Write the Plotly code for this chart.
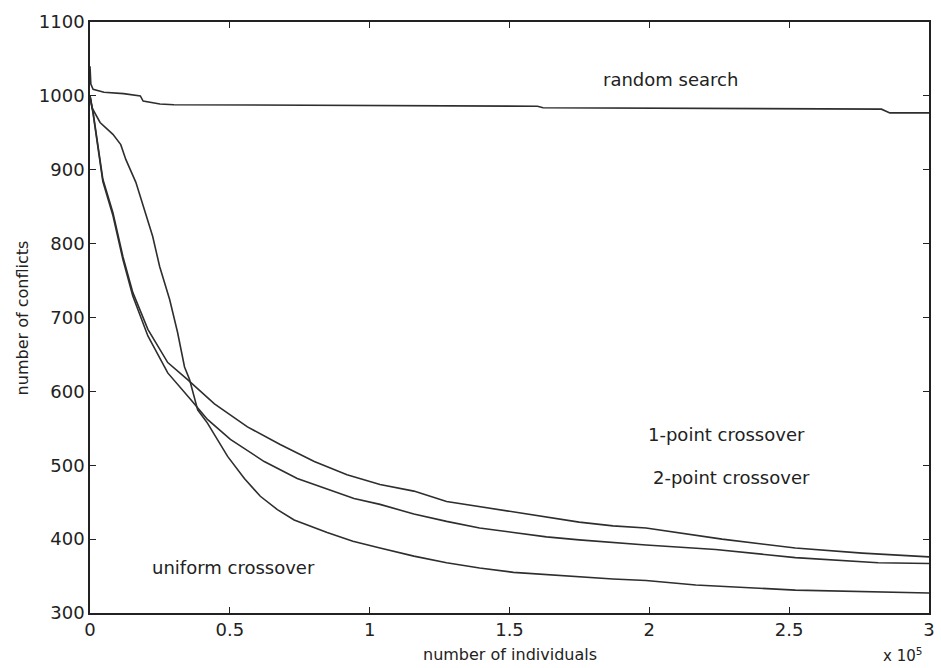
import plotly.graph_objects as go

# x values are in units of 10^5 individuals
random_x = [0, 0.003, 0.011, 0.05, 0.12, 0.18, 0.19, 0.25, 0.3, 0.8, 1.6, 1.62, 2.2, 2.83, 2.86, 3.0]
random_y = [1040, 1016, 1009, 1005, 1003, 1000, 993, 989, 988, 987, 986, 984, 983, 982, 977, 977]

one_point_x = [0, 0.011, 0.046, 0.082, 0.118, 0.153, 0.207, 0.278, 0.349, 0.445, 0.563, 0.680,
               0.802, 0.919, 1.037, 1.158, 1.275, 1.393, 1.514, 1.632, 1.749, 1.870, 1.988,
               2.26, 2.522, 2.761, 3.0]
one_point_y = [1000, 978, 887, 842, 782, 734, 684, 639, 616, 583, 552, 528,
               505, 487, 474, 465, 451, 444, 437, 430, 423, 418, 415,
               400, 388, 381, 376]

two_point_x = [0, 0.011, 0.046, 0.082, 0.118, 0.153, 0.207, 0.278, 0.360, 0.420, 0.502, 0.623,
               0.741, 0.859, 0.944, 1.037, 1.158, 1.275, 1.393, 1.514, 1.632, 1.749, 1.870,
               1.988, 2.237, 2.522, 2.818, 3.0]
two_point_y = [1000, 976, 884, 838, 778, 729, 675, 625, 589, 562, 535, 505,
               482, 466, 455, 447, 434, 424, 415, 409, 403, 399, 395,
               392, 386, 375, 368, 367]

uniform_x = [0, 0.007, 0.036, 0.082, 0.11, 0.128, 0.164, 0.199, 0.224, 0.249, 0.285, 0.313,
             0.338, 0.356, 0.385, 0.42, 0.492, 0.552, 0.609, 0.67, 0.73, 0.848, 0.94, 1.037,
             1.158, 1.275, 1.393, 1.514, 1.632, 1.749, 1.870, 1.988, 2.166, 2.522, 3.0]
uniform_y = [1000, 984, 964, 948, 934, 914, 883, 842, 810, 769, 724, 680,
             633, 616, 575, 557, 512, 482, 458, 440, 426, 409, 397, 388,
             377, 368, 361, 355, 352, 349, 346, 344, 338, 331, 327]

x_ticks = [0, 0.5, 1, 1.5, 2, 2.5, 3]
x_tick_labels = ["0", "0.5", "1", "1.5", "2", "2.5", "3"]
y_ticks = [300, 400, 500, 600, 700, 800, 900, 1000, 1100]

series = [
    ("random search", random_x, random_y),
    ("1-point crossover", one_point_x, one_point_y),
    ("2-point crossover", two_point_x, two_point_y),
    ("uniform crossover", uniform_x, uniform_y),
]

# label text, left edge x, centre y
curve_labels = [
    ("random search", 1.828, 1022),
    ("1-point crossover", 1.988, 541),
    ("2-point crossover", 2.006, 483),
    ("uniform crossover", 0.214, 361),
]

FONT = "DejaVu Sans"
LINE = "#2e2e2e"

fig = go.Figure()
for name, xs, ys in series:
    fig.add_trace(go.Scatter(x=xs, y=ys, mode="lines", name=name,
                             line=dict(color=LINE, width=1.6), showlegend=False))

for text, lx, ly in curve_labels:
    fig.add_annotation(x=lx, y=ly, text=text, showarrow=False, xanchor="left",
                       yanchor="middle", font=dict(family=FONT, size=18, color="#222"))

axis_common = dict(showline=True, linecolor="#222", linewidth=1.6, mirror="allticks",
                   ticks="inside", ticklen=6, tickwidth=1.2, tickcolor="#222",
                   showgrid=False, zeroline=False,
                   tickfont=dict(family=FONT, size=18, color="#222"))

fig.update_xaxes(range=[0, 3], tickvals=x_ticks, ticktext=x_tick_labels, **axis_common)
fig.update_yaxes(range=[300, 1100], tickvals=y_ticks, **axis_common)

fig.add_annotation(xref="paper", yref="paper", x=0.5, y=-0.071, text="number of individuals",
                   showarrow=False, xanchor="center", yanchor="middle",
                   font=dict(family=FONT, size=16, color="#222"))
fig.add_annotation(xref="paper", yref="paper", x=-0.08, y=0.5, text="number of conflicts",
                   showarrow=False, textangle=-90, xanchor="center", yanchor="middle",
                   font=dict(family=FONT, size=16, color="#222"))
fig.add_annotation(xref="paper", yref="paper", x=0.994, y=-0.071, text="x 10<sup>5</sup>",
                   showarrow=False, xanchor="right", yanchor="middle",
                   font=dict(family=FONT, size=15, color="#222"))

fig.update_layout(width=941, height=668, margin=dict(l=90, r=6, t=22, b=55),
                  plot_bgcolor="white", paper_bgcolor="white")

fig.write_html("out.html")
